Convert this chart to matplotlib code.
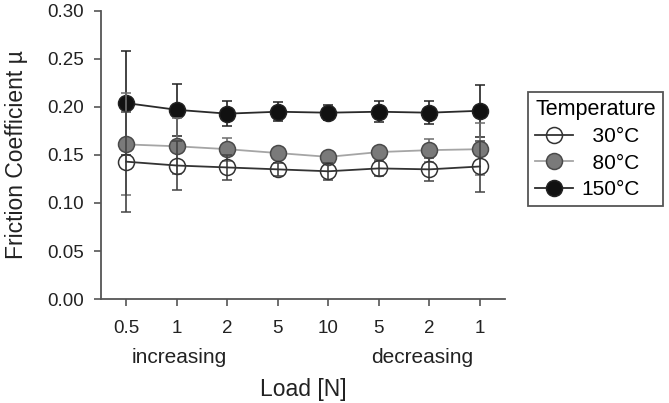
import numpy as np
import matplotlib
matplotlib.use("Agg")
import matplotlib.pyplot as plt
import matplotlib.transforms as mtransforms
from matplotlib.lines import Line2D

plt.rcParams['font.family'] = ['Liberation Sans', 'DejaVu Sans']

# x categories (load sequence)
loads = ['0.5', '1', '2', '5', '10', '5', '2', '1']

# mean friction coefficient per temperature
mu_30 = [0.143, 0.139, 0.137, 0.135, 0.133, 0.136, 0.135, 0.138]
mu_80 = [0.161, 0.159, 0.156, 0.152, 0.148, 0.153, 0.155, 0.156]
mu_150 = [0.204, 0.197, 0.193, 0.195, 0.194, 0.195, 0.194, 0.196]

# error (std) per temperature
err_30 = [0.052, 0.026, 0.013, 0.007, 0.009, 0.008, 0.012, 0.027]
err_80 = [0.053, 0.029, 0.012, 0.005, 0.005, 0.005, 0.012, 0.027]
err_150 = [0.054, 0.027, 0.013, 0.010, 0.008, 0.011, 0.012, 0.027]

temp_labels = ['  30°C', '  80°C', '150°C']

x = np.arange(len(loads))

fig = plt.figure(figsize=(6.69, 4.03), dpi=100)
ax = fig.add_axes([0.151, 0.258, 0.604, 0.715])

# style per series: line colour, marker face, marker edge, error bar colour
st_150 = dict(color='#2a2a2a', mfc='#111111', mec='#222222', ecolor='#222222')
st_80 = dict(color='#a5a5a5', mfc='#7a7a7a', mec='#4a4a4a', ecolor='#6e6e6e')
st_30 = dict(color='#333333', mfc='none', mec='#333333', ecolor='#444444')

common = dict(fmt='-o', lw=1.3, ms=11.5, mew=1.1, elinewidth=1.2,
              capsize=3.6, capthick=1.2)

ax.errorbar(x, mu_150, yerr=err_150, zorder=2, **st_150, **common)
ax.errorbar(x, mu_80, yerr=err_80, zorder=3, **st_80, **common)
ax.errorbar(x, mu_30, yerr=err_30, zorder=4, **st_30, **common)

ax.set_xlim(-0.5, 7.5)
ax.set_ylim(0, 0.30)
yt = np.arange(0, 0.301, 0.05)
ax.set_yticks(yt)
ax.set_yticklabels([f'{v:.2f}' for v in yt])
ax.set_xticks(x)
ax.set_xticklabels(loads)

for s in ['top', 'right']:
    ax.spines[s].set_visible(False)
for s in ['left', 'bottom']:
    ax.spines[s].set_color('#555555')
    ax.spines[s].set_linewidth(1.3)

ax.tick_params(axis='both', direction='out', length=5, width=1.2, color='#555555',
               labelsize=13.5, labelcolor='#222222', pad=7)
ax.tick_params(axis='x', pad=10)

ax.set_ylabel('Friction Coefficient µ', fontsize=16.5, color='#222222')
ax.yaxis.set_label_coords(-0.18, 0.5)
ax.set_xlabel('Load [N]', fontsize=16.5, color='#222222')
ax.xaxis.set_label_coords(0.5, -0.275)

trans = mtransforms.blended_transform_factory(ax.transData, fig.transFigure)
ax.text(1.04, 0.112, 'increasing', transform=trans, ha='center', va='center',
        fontsize=15, color='#222222')
ax.text(5.85, 0.112, 'decreasing', transform=trans, ha='center', va='center',
        fontsize=15, color='#222222')

handles = []
for st in [st_30, st_80, st_150]:
    handles.append(Line2D([], [], color=st['color'], lw=1.3, marker='o', ms=11.5,
                          mfc=st['mfc'], mec=st['mec'], mew=1.1))

leg = fig.legend(handles, temp_labels,
                 title='Temperature', loc='upper left',
                 bbox_to_anchor=(0.789, 0.772), fontsize=15, title_fontsize=15.5,
                 fancybox=False, framealpha=1, edgecolor='#555555',
                 handlelength=1.8, handletextpad=0.4, borderpad=0.35,
                 labelspacing=0.35, borderaxespad=0)
leg.get_frame().set_linewidth(1.3)
leg._legend_box.align = 'left'

fig.savefig('out.png', dpi=100)
